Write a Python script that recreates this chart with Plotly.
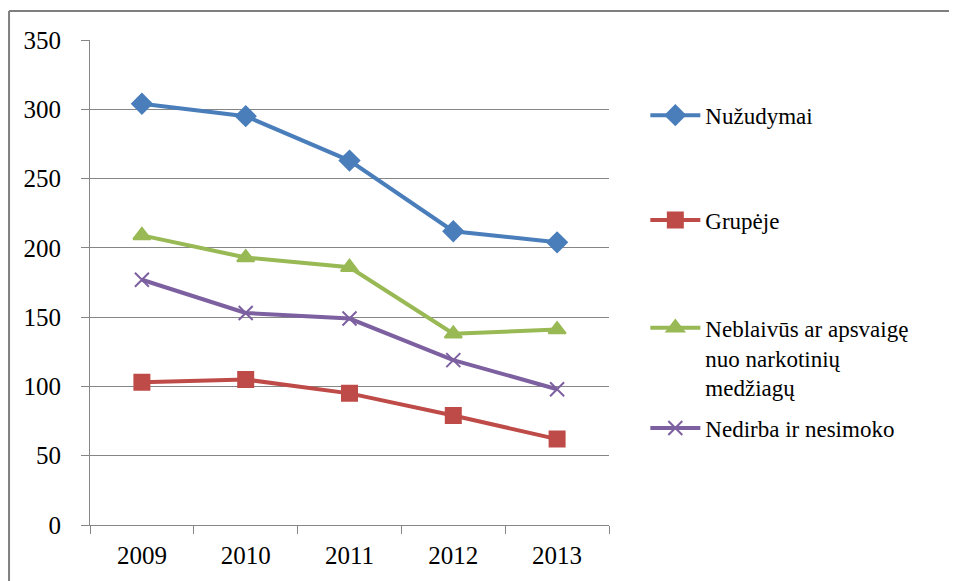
import plotly.graph_objects as go

years = ["2009", "2010", "2011", "2012", "2013"]
nuzudymai = [304, 295, 263, 212, 204]
grupeje = [103, 105, 95, 79, 62]
neblaivus = [209, 193, 186, 138, 141]
nedirba = [177, 153, 149, 119, 98]

names = ["Nužudymai", "Grupėje", "Neblaivūs ar apsvaigę<br>nuo narkotinių<br>medžiagų", "Nedirba ir nesimoko"]
colors = ["#4A7EBB", "#BE4B48", "#98B954", "#7D60A0"]
symbols = ["diamond", "square", "triangle-up", "x-thin"]
sizes = [15, 15, 15, 14]
legend_ids = ["legend", "legend2", "legend3", "legend4"]
series = [nuzudymai, grupeje, neblaivus, nedirba]

FONT = "Times New Roman, Liberation Serif, serif"

fig = go.Figure()
for vals, name, col, sym, sz, lg in zip(series, names, colors, symbols, sizes, legend_ids):
    fig.add_trace(go.Scatter(
        x=years, y=vals, name=name, mode="lines+markers",
        line=dict(color=col, width=4),
        marker=dict(symbol=sym, size=sz, color=col, line=dict(color=col, width=2)),
        legend=lg,
    ))

leg_common = dict(xanchor="left", yanchor="middle", bgcolor="rgba(0,0,0,0)",
                  font=dict(family=FONT, size=23, color="black"), valign="top",
                  itemwidth=50)
fig.update_layout(
    width=957, height=581,
    showlegend=True,
    margin=dict(l=82, r=356, t=32, b=64),
    paper_bgcolor="white", plot_bgcolor="white",
    font=dict(family=FONT, size=24, color="black"),
    legend=dict(x=1.07, y=0.845, **leg_common),
    legend2=dict(x=1.07, y=0.629, **leg_common),
    legend3=dict(x=1.07, y=0.345, **leg_common),
    legend4=dict(x=1.07, y=0.2, **leg_common),
    xaxis=dict(
        type="category", tickson="boundaries", ticks="outside", ticklen=8,
        tickcolor="#868686", showline=True, linecolor="#868686", linewidth=1,
        showgrid=False, tickfont=dict(family=FONT, size=25),
        ticklabelstandoff=8, range=[-0.5, 4.5],
    ),
    yaxis=dict(
        range=[0, 350], dtick=50, ticks="outside", ticklen=8,
        tickcolor="#868686", showline=True, linecolor="#868686", linewidth=1,
        showgrid=True, gridcolor="#868686", gridwidth=1, zeroline=False,
        tickfont=dict(family=FONT, size=25), ticklabelstandoff=15,
    ),
    shapes=[
        dict(type="line", xref="paper", yref="paper", x0=-0.156, x1=1.8, y0=1.06, y1=1.06,
             line=dict(color="#7F7F7F", width=2)),
        dict(type="line", xref="paper", yref="paper", x0=-0.156, x1=-0.156, y0=-0.2, y1=1.06,
             line=dict(color="#7F7F7F", width=2)),
    ],
)

fig.write_html("out.html")
